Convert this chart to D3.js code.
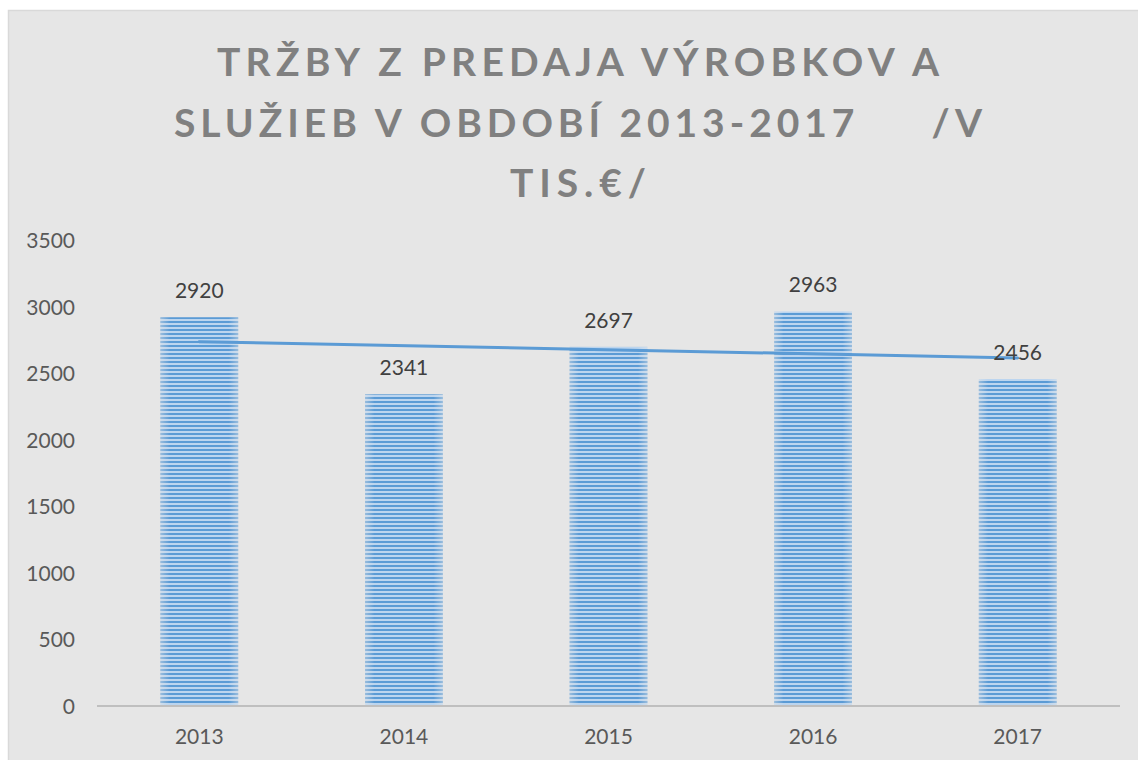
<!DOCTYPE html>
<html>
<head>
<meta charset="utf-8">
<script src="https://cdn.jsdelivr.net/npm/d3@7"></script>
<style>
  body { margin: 0; background: #fff; }
  svg { display: block; }
</style>
</head>
<body>
<svg id="chart" width="1138" height="760"></svg>
<script>
const years = ['2013', '2014', '2015', '2016', '2017']
const sales = [2920, 2341, 2697, 2963, 2456]
const yTicks = [0, 500, 1000, 1500, 2000, 2500, 3000, 3500]
const titleLines = ['TRŽBY Z PREDAJA VÝROBKOV A', 'SLUŽIEB V OBDOBÍ 2013-2017     /V', 'TIS.€/']

const $svg = d3.select('#chart')
const width = 1138, height = 760
const MARGIN = { top: 240, right: 18, bottom: 54, left: 97 }
const FONT = 'Lato, sans-serif'

// chart frame
$svg.append('rect')
  .attr('x', 8.5).attr('y', 10.5)
  .attr('width', width).attr('height', height)
  .attr('fill', '#e6e6e6')
  .attr('stroke', '#d9d9d9')
  .attr('stroke-width', 1.5)

// striped fill like the office pattern
const defs = $svg.append('defs')
const pat = defs.append('pattern')
  .attr('id', 'stripes')
  .attr('patternUnits', 'userSpaceOnUse')
  .attr('width', 8).attr('height', 4)
pat.append('rect').attr('width', 8).attr('height', 4).attr('fill', '#bcd5ef')
pat.append('rect').attr('y', 1).attr('width', 8).attr('height', 2).attr('fill', '#5b9bd5')

const fade = defs.append('linearGradient').attr('id', 'edgeFade')
fade.append('stop').attr('offset', '0').attr('stop-color', '#e6e6e6').attr('stop-opacity', 0.45)
fade.append('stop').attr('offset', '0.12').attr('stop-color', '#e6e6e6').attr('stop-opacity', 0)
fade.append('stop').attr('offset', '0.88').attr('stop-color', '#e6e6e6').attr('stop-opacity', 0)
fade.append('stop').attr('offset', '1').attr('stop-color', '#e6e6e6').attr('stop-opacity', 0.45)

const x = d3.scaleBand()
  .domain(years)
  .range([MARGIN.left, width - MARGIN.right])
  .paddingInner(0.62)
  .paddingOuter(0.31)

const y = d3.scaleLinear()
  .domain([0, 3500])
  .range([height - MARGIN.bottom, MARGIN.top])

// title
const $title = $svg.append('g')
const titleWidths = [722, 808, 136]
titleLines.forEach((t, i) => {
  $title.append('text')
    .attr('x', 578)
    .attr('y', 76 + i * 60.5)
    .attr('text-anchor', 'middle')
    .attr('font-family', FONT)
    .attr('font-weight', 700)
    .attr('font-size', 39)
    .attr('fill', '#808080')
    .attr('textLength', titleWidths[i])
    .attr('lengthAdjust', 'spacing')
    .style('white-space', 'pre')
    .text(t)
})

// bars
const bars = $svg.append('g').selectAll('g.bar')
  .data(sales)
  .join('g')
  .attr('class', 'bar')
bars.append('rect')
  .attr('x', (d, i) => x(years[i]))
  .attr('y', d => y(d))
  .attr('width', x.bandwidth())
  .attr('height', d => y(0) - y(d))
  .attr('fill', 'url(#stripes)')
bars.append('rect')
  .attr('x', (d, i) => x(years[i]))
  .attr('y', d => y(d))
  .attr('width', x.bandwidth())
  .attr('height', d => y(0) - y(d))
  .attr('fill', 'url(#edgeFade)')

// x axis line
$svg.append('line')
  .attr('x1', MARGIN.left).attr('x2', width - MARGIN.right)
  .attr('y1', y(0)).attr('y2', y(0))
  .attr('stroke', '#bfbfbf')
  .attr('stroke-width', 2)

// linear trend (least squares over the five years)
const n = sales.length
const xs = d3.range(1, n + 1)
const mx = d3.mean(xs), my = d3.mean(sales)
const slope = d3.sum(xs, (v, i) => (v - mx) * (sales[i] - my)) / d3.sum(xs, v => (v - mx) ** 2)
const trend = xs.map(v => my + slope * (v - mx))
const cx = i => x(years[i]) + x.bandwidth() / 2
$svg.append('path')
  .datum([0, n - 1])
  .attr('fill', 'none')
  .attr('stroke', '#5b9bd5')
  .attr('stroke-width', 3)
  .attr('stroke-linecap', 'round')
  .attr('d', d3.line().x(i => cx(i)).y(i => y(trend[i])))

// value labels
$svg.append('g').selectAll('text')
  .data(sales)
  .join('text')
  .attr('x', (d, i) => cx(i))
  .attr('y', d => y(d) - 19)
  .attr('text-anchor', 'middle')
  .attr('font-family', FONT)
  .attr('font-size', 21)
  .attr('fill', '#404040')
  .text(d => d)

// y tick labels
$svg.append('g').selectAll('text')
  .data(yTicks)
  .join('text')
  .attr('x', 75)
  .attr('y', d => y(d) + 8)
  .attr('text-anchor', 'end')
  .attr('font-family', FONT)
  .attr('font-size', 21)
  .attr('fill', '#595959')
  .text(d => d)

// x tick labels
$svg.append('g').selectAll('text')
  .data(years)
  .join('text')
  .attr('x', d => x(d) + x.bandwidth() / 2)
  .attr('y', 744)
  .attr('text-anchor', 'middle')
  .attr('font-family', FONT)
  .attr('font-size', 21)
  .attr('fill', '#595959')
  .text(d => d)
</script>
</body>
</html>
